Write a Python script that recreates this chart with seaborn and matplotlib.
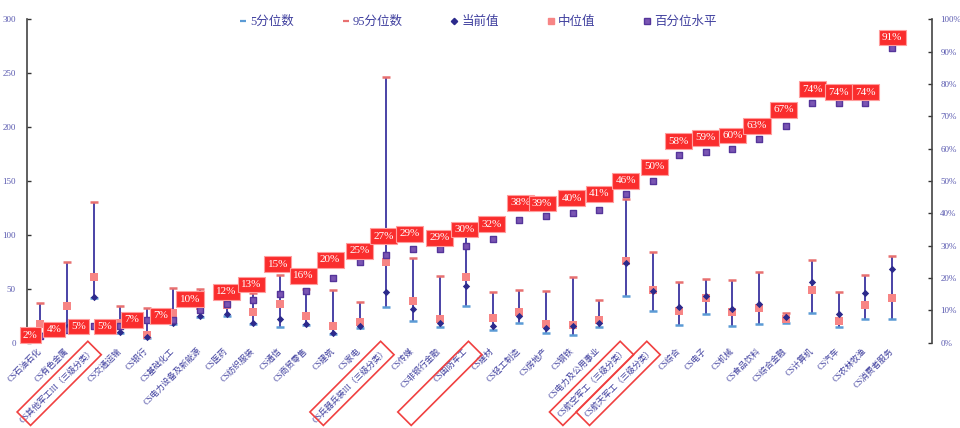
import numpy as np
import pandas as pd
import matplotlib
matplotlib.use("Agg")
import matplotlib.pyplot as plt
from matplotlib.lines import Line2D
from matplotlib.patches import Polygon
from matplotlib.ticker import FuncFormatter
import seaborn as sns

# ---- data -------------------------------------------------------------
categories = [
    "CS石油石化", "CS有色金属", "CS其他军工III（三级分类）", "CS交通运输", "CS银行",
    "CS基础化工", "CS电力设备及新能源", "CS医药", "CS纺织服装", "CS通信",
    "CS商贸零售", "CS建筑", "CS家电", "CS兵器兵装III（三级分类）", "CS传媒",
    "CS非银行金融", "CS国防军工", "CS建材", "CS轻工制造", "CS房地产",
    "CS钢铁", "CS电力及公用事业", "CS航空军工（三级分类）", "CS航天军工（三级分类）", "CS综合",
    "CS电子", "CS机械", "CS食品饮料", "CS综合金融", "CS计算机",
    "CS汽车", "CS农林牧渔", "CS消费者服务",
]
p5 = [7, 11, 41, 9, 4.5, 17, 24, 25, 17, 14.7,
      16, 8, 13.5, 33, 20, 14, 34, 11.6, 17.8, 8.5,
      7, 14, 43, 29, 16.5, 26, 15.6, 17.2, 17.8, 27.4,
      14, 21.5, 21.5]
p95 = [37, 75, 130, 34, 32, 51, 50, 41, 46, 63,
       50, 49, 38, 246, 78, 62, 100, 47, 48.7, 48,
       61, 39.4, 133, 84, 56, 59, 58, 65, 27.4, 76.5,
       47, 63, 80]
current = [7.5, 14.5, 42, 10, 5, 18, 25, 26, 18, 21.5,
           17.2, 9, 15.3, 47, 31, 18, 52.4, 15.6, 24.6, 13.2,
           15, 18, 74, 48, 32.6, 43, 30.8, 35.4, 23.9, 55.8,
           26.4, 46.2, 68.2]
median = [17.4, 34, 61, 18.4, 7, 27.7, 34, 35, 28.6, 35.7,
          25, 15.6, 19.3, 75, 38.5, 21.5, 60.5, 22.4, 28, 16.9,
          16.5, 21, 76, 49, 29.5, 41.3, 28.3, 31.7, 21.8, 48.7,
          19.7, 34.8, 41]
pct_level = [2, 4, 5, 5, 7, 7, 10, 12, 13, 15,
             16, 20, 25, 27, 29, 29, 30, 32, 38, 39,
             40, 41, 46, 50, 58, 59, 60, 63, 67, 74,
             74, 74, 91]
left_ticks = [0, 50, 100, 150, 200, 250, 300]
right_ticks = [0, 10, 20, 30, 40, 50, 60, 70, 80, 90, 100]
highlighted = ["CS其他军工III（三级分类）", "CS兵器兵装III（三级分类）", "CS国防军工",
               "CS航空军工（三级分类）", "CS航天军工（三级分类）"]

df = pd.DataFrame({
    "x": np.arange(len(categories)),
    "cat": categories,
    "p5": p5, "p95": p95, "current": current,
    "median": median, "pct": np.array(pct_level) / 100.0,
})

# ---- styling ----------------------------------------------------------
sns.set_theme(style="white")
plt.rcParams["font.family"] = ["Liberation Serif", "Noto Sans CJK SC"]
plt.rcParams["axes.unicode_minus"] = False

TXT = "#3f3f9e"
BAR = "#4a42a6"
CUR = "#2c2a8c"
MED = "#f78585"
PCT = "#7a55b3"
PCT_EDGE = "#55359a"
LOW = "#5b9bd5"
HIGH = "#e87070"
TAG = "#fa2d2d"

W, H = 960, 428
fig = plt.figure(figsize=(W / 100, H / 100), dpi=100)
ax = fig.add_axes([27 / W, 1 - 342.5 / H, (932 - 27) / W, (342.5 - 19.3) / H])
ax2 = ax.twinx()

# percentile range bars with caps
ax.vlines(df["x"], df["p5"], df["p95"], color=BAR, lw=1.4, zorder=1)
ax.plot(df["x"], df["p5"], ls="none", marker="_", ms=6, mew=1.8, color=LOW, zorder=2)
ax.plot(df["x"], df["p95"], ls="none", marker="_", ms=6, mew=1.8, color=HIGH, zorder=2)

sns.scatterplot(data=df, x="x", y="median", ax=ax, marker="s", s=28,
                color=MED, edgecolor=MED, linewidth=0, zorder=3, legend=False)
sns.scatterplot(data=df, x="x", y="current", ax=ax, marker="D", s=14,
                color=CUR, edgecolor=CUR, linewidth=0, zorder=4, legend=False)
sns.scatterplot(data=df, x="x", y="pct", ax=ax2, marker="s", s=22,
                color=PCT, edgecolor=PCT_EDGE, linewidth=1.0, zorder=3, legend=False)

# value tags above the percentile markers (offsets in pixels)
tag_offsets = [(-10, 1), (-13, 0), (-15, 0), (-15, 0), (-15, 0), (-13, 4), (-10, 11),
               (0, 12), (-2, 16), (-2, 30), (-3, 15), (-3, 18), (0, 11), (-3, 19),
               (-3, 15), (0, 11), (-2, 16), (-1, 15), (1, 17), (-4, 13), (-1, 15),
               (0, 16), (0, 13), (2, 14), (-1, 14), (0, 14), (0, 13), (-2, 13),
               (-2, 16), (0, 14), (0, 11), (0, 11), (0, 11)]
for xi, yv, lab, (dx, dy) in zip(df["x"], df["pct"], pct_level, tag_offsets):
    ax2.annotate(f"{lab}%", (xi, yv), xytext=(dx, dy), textcoords="offset pixels",
                 ha="center", va="center", fontsize=8, color="white",
                 family=["Liberation Serif"], zorder=6,
                 bbox=dict(boxstyle="square,pad=0.3", fc=TAG, ec="#ff9d9d", lw=0.8))

# axes
ax.set_xlim(-0.5, 33.5)
ax.set_ylim(0, 300)
ax2.set_ylim(0, 1)
ax.set_yticks(left_ticks)
ax2.set_yticks(np.array(right_ticks) / 100)
ax2.yaxis.set_major_formatter(FuncFormatter(lambda v, _: f"{v * 100:.0f}%"))
ax.set_xlabel("")
ax.set_ylabel("")
ax2.set_ylabel("")
ax2.set_xlabel("")

ax.set_xticks(df["x"])
ax.set_xticklabels(categories, rotation=45, ha="right", va="center",
                   rotation_mode="anchor", fontsize=6, color=TXT)
ax.tick_params(axis="x", length=0, pad=5)
ax.tick_params(axis="y", direction="in", length=3, width=1, colors="#333333",
               labelcolor="#5a5ab0", labelsize=6.5, pad=8)
ax2.tick_params(axis="y", direction="in", length=3, width=1, colors="#333333",
                labelcolor="#5a5ab0", labelsize=6.5, pad=6)

for a in (ax, ax2):
    for side in ("top", "bottom"):
        a.spines[side].set_visible(False)
    a.spines["left"].set_color("#444444")
    a.spines["right"].set_color("#444444")
    a.spines["left"].set_linewidth(1.2)
    a.spines["right"].set_linewidth(1.2)
    a.grid(False)
ax.spines["right"].set_visible(False)
ax2.spines["left"].set_visible(False)

# red frames around the military sub-industry labels
frame_dx = {"CS国防军工": 9}
L, half_w = 100, 9.5
u = np.array([-1.0, -1.0]) / np.sqrt(2)   # down-left along the label (display coords, y up)
v = np.array([1.0, -1.0]) / np.sqrt(2)    # across the label
for name in highlighted:
    i = categories.index(name)
    xpx = ax.transData.transform((i, 0))[0]
    top = np.array([xpx + frame_dx.get(name, 1), H - 348])
    pts = [top - half_w * v, top + half_w * v,
           top + L * u + half_w * v, top + L * u - half_w * v]
    pts = [(p[0] / W, p[1] / H) for p in pts]
    fig.add_artist(Polygon(pts, closed=True, fill=False, ec="#f04040", lw=1.2,
                           transform=fig.transFigure))

# legend
handles = [
    Line2D([], [], ls="none", marker="_", ms=5, mew=1.6, color=LOW),
    Line2D([], [], ls="none", marker="_", ms=5, mew=1.6, color=HIGH),
    Line2D([], [], ls="none", marker="D", ms=3.2, color=CUR),
    Line2D([], [], ls="none", marker="s", ms=4.5, color=MED),
    Line2D([], [], ls="none", marker="s", ms=4, color=PCT, mec=PCT_EDGE),
]
labels = ["5分位数", "95分位数", "当前值", "中位值", "百分位水平"]
leg = fig.legend(handles, labels, loc="center", bbox_to_anchor=(478 / W, 1 - 22 / H),
                 ncol=5, frameon=False, fontsize=9, handlelength=0.6,
                 handletextpad=0.3, columnspacing=3.8)
for t in leg.get_texts():
    t.set_color(TXT)

fig.savefig("out.png", dpi=100)
